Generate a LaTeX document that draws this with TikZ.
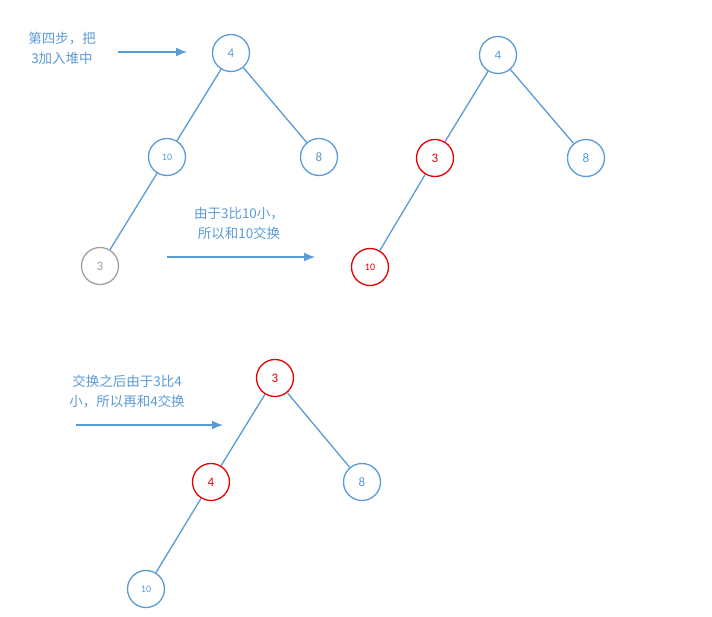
\documentclass[tikz,border=0pt]{standalone}
\usetikzlibrary{arrows.meta}
\usepackage{fontspec}
\setmainfont{Carlito}
\newfontfamily\cjk{Noto Sans CJK SC}
\definecolor{bl}{RGB}{91,155,213}
\definecolor{rd}{RGB}{230,0,0}
\definecolor{gy}{RGB}{160,160,160}
\begin{document}
\begin{tikzpicture}[x=1pt,y=-1pt,
 nd/.style={circle,draw=bl,line width=1.3pt,minimum size=37pt,inner sep=0pt,text=bl,font=\fontsize{13}{13}\selectfont},
 sm/.style={font=\fontsize{10}{10}\selectfont},
 rn/.style={draw=rd,text=rd},
 gn/.style={draw=gy,text=gy},
 ed/.style={draw=bl,line width=1.3pt},
 ar/.style={draw=bl,line width=1.5pt,-{Latex[length=11pt,width=9pt]}},
 lb/.style={text=bl,font=\cjk\fontsize{13.5}{20}\selectfont,align=center}]
\useasboundingbox (0,0) rectangle (712,616);
\node[nd] (a4) at (231,53) {4};
\node[nd,sm] (a10) at (167,157) {10};
\node[nd] (a8) at (319,157) {8};
\node[nd,gn] (a3) at (100,266) {3};
\draw[ed] (a4)--(a10) (a4)--(a8) (a10)--(a3);
\node[nd] (b4) at (498,55) {4};
\node[nd,rn] (b3) at (435,158) {3};
\node[nd] (b8) at (586,158) {8};
\node[nd,rn,sm] (b10) at (370,267) {10};
\draw[ed] (b4)--(b3) (b4)--(b8) (b3)--(b10);
\node[nd,rn] (c3) at (275,378) {3};
\node[nd,rn] (c4) at (211,482) {4};
\node[nd] (c8) at (362,482) {8};
\node[nd,sm] (c10) at (146,589) {10};
\draw[ed] (c3)--(c4) (c3)--(c8) (c4)--(c10);
\node[lb] (t1) at (62,48) {第四步，把\\3加入堆中};
\node[lb] (t2) at (239,223) {由于3比10小，\\所以和10交换};
\node[lb] (t3) at (127,391) {交换之后由于3比4\\小，所以再和4交换};
\coordinate (p1) at (118,52); \coordinate (q1) at (187,52);
\coordinate (p2) at (167,257); \coordinate (q2) at (315,257);
\coordinate (p3) at (76,425); \coordinate (q3) at (223,425);
\draw[ar] (p1)--(q1);
\draw[ar] (p2)--(q2);
\draw[ar] (p3)--(q3);
\end{tikzpicture}
\end{document}
